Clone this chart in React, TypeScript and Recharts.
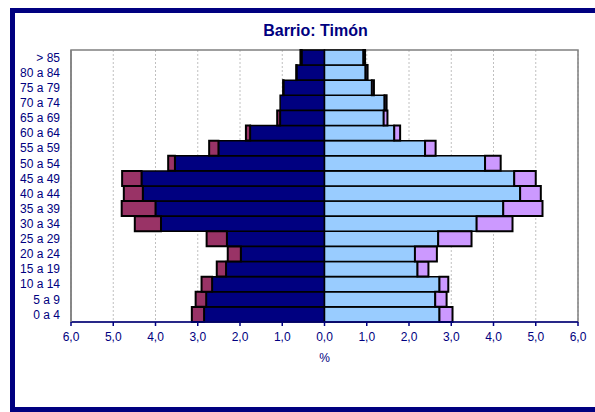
import { Bar, BarChart, CartesianGrid, ReferenceArea, XAxis, YAxis } from "recharts";

// age groups, youngest first (axis is reversed so "> 85" sits on top)
const ages = [
  "0 a 4", "5 a 9", "10 a 14", "15 a 19", "20 a 24", "25 a 29", "30 a 34", "35 a 39", "40 a 44",
  "45 a 49", "50 a 54", "55 a 59", "60 a 64", "65 a 69", "70 a 74", "75 a 79", "80 a 84", "> 85",
];

// % of population, left side (hombres)
const menInner = [2.85, 2.8, 2.66, 2.33, 1.98, 2.31, 3.87, 4.0, 4.3, 4.33, 3.54, 2.51, 1.76, 1.05, 1.05, 0.97, 0.66, 0.54];
const menExtra = [0.29, 0.25, 0.25, 0.22, 0.31, 0.48, 0.62, 0.8, 0.45, 0.46, 0.16, 0.22, 0.1, 0.07, 0.0, 0.01, 0.01, 0.03];

// right side (mujeres)
const womenInner = [2.72, 2.62, 2.72, 2.2, 2.14, 2.69, 3.6, 4.23, 4.63, 4.49, 3.8, 2.38, 1.65, 1.4, 1.42, 1.12, 0.97, 0.92];
const womenExtra = [0.31, 0.27, 0.21, 0.26, 0.52, 0.79, 0.85, 0.93, 0.49, 0.51, 0.37, 0.25, 0.14, 0.09, 0.05, 0.05, 0.05, 0.04];

const xTicks = [-6, -5, -4, -3, -2, -1, 0, 1, 2, 3, 4, 5, 6];

const NAVY = "#000080";
const FONT = "'Liberation Sans', Arial, sans-serif";

const data = ages.map((age, i) => ({
  age,
  menInner: -menInner[i],
  menExtra: -menExtra[i],
  womenInner: womenInner[i],
  womenExtra: womenExtra[i],
}));

const fmt = (v: number) => Math.abs(v).toFixed(1).replace(".", ",");

export default function App() {
  return (
    <div style={{ position: "absolute", left: 0, top: 0, width: 595, height: 412, overflow: "hidden", background: "#fff" }}>
      <div
        style={{
          position: "absolute",
          left: 10,
          top: 8,
          width: 620,
          height: 394,
          border: `5px solid ${NAVY}`,
        }}
      />
      <div
        style={{
          position: "absolute",
          left: 0,
          top: 22,
          width: 631,
          textAlign: "center",
          fontFamily: FONT,
          fontWeight: "bold",
          fontSize: 16,
          color: NAVY,
        }}
      >
        Barrio: Timón
      </div>
      <div style={{ position: "absolute", left: 0, top: 0 }}>
        <BarChart
          width={595}
          height={412}
          data={data}
          layout="vertical"
          stackOffset="sign"
          barCategoryGap={0}
          margin={{ top: 50, right: 17, left: 11, bottom: 48 }}
        >
          <CartesianGrid horizontal={false} stroke="#c0c0c0" strokeDasharray="2 2" />
          <ReferenceArea x1={-6} x2={6} stroke="#808080" strokeWidth={1.5} fill="none" />
          <XAxis
            type="number"
            domain={[-6, 6]}
            ticks={xTicks}
            tickFormatter={fmt}
            height={42}
            tickSize={4}
            tickMargin={6}
            axisLine={{ stroke: NAVY, strokeWidth: 1.5 }}
            tickLine={{ stroke: NAVY, strokeWidth: 1.5 }}
            tick={{ fill: NAVY, fontSize: 12, fontFamily: FONT }}
            label={{ value: "%", position: "insideBottom", offset: 2, fill: NAVY, fontSize: 12, fontFamily: FONT }}
          />
          <YAxis
            type="category"
            dataKey="age"
            reversed
            width={60}
            interval={0}
            tickLine={false}
            tickSize={0}
            tickMargin={11}
            axisLine={{ stroke: "#808080", strokeWidth: 1.5 }}
            tick={{ fill: NAVY, fontSize: 12, fontFamily: FONT }}
          />
          <Bar dataKey="menInner" stackId="p" fill={NAVY} stroke="#000" strokeWidth={1.5} isAnimationActive={false} />
          <Bar dataKey="menExtra" stackId="p" fill="#993366" stroke="#000" strokeWidth={2} isAnimationActive={false} />
          <Bar dataKey="womenInner" stackId="p" fill="#99ccff" stroke="#000" strokeWidth={1.5} isAnimationActive={false} />
          <Bar dataKey="womenExtra" stackId="p" fill="#cc99ff" stroke="#000" strokeWidth={2} isAnimationActive={false} />
        </BarChart>
      </div>
    </div>
  );
}
